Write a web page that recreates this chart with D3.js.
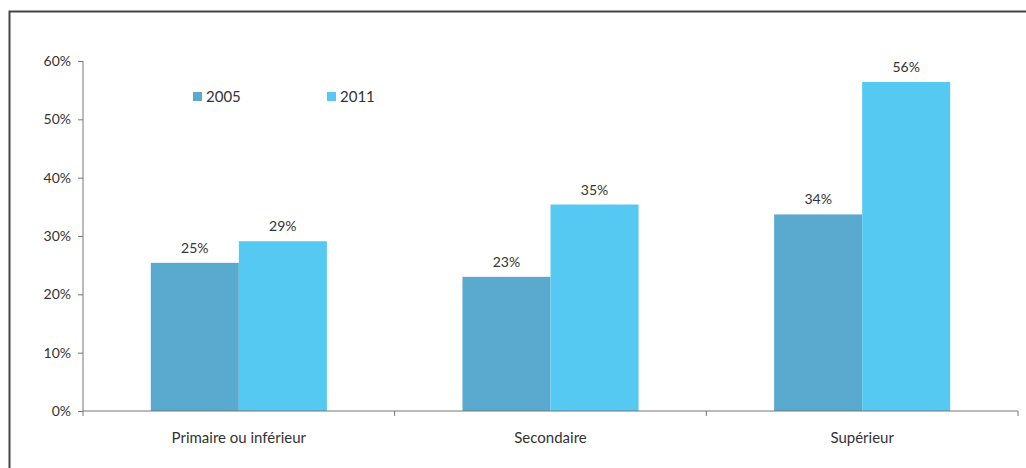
<!DOCTYPE html>
<html>
<head>
<meta charset="utf-8">
<script src="https://cdn.jsdelivr.net/npm/d3@7"></script>
<style>
  body { margin: 0; background: #fff; }
  svg text { font-family: "Lato", "Open Sans", sans-serif; fill: #333; }
</style>
</head>
<body>
<svg width="1026" height="468"></svg>
<script>
const categories = ['Primaire ou inférieur', 'Secondaire', 'Supérieur'];
const years = ['2005', '2011'];
const values2005 = [25.4, 23.0, 33.7];
const values2011 = [29.1, 35.4, 56.4];
const yTicks = [0, 10, 20, 30, 40, 50, 60];
const colours = ['#5aa9cf', '#55c9f1'];

const svg = d3.select('svg');
const margin = {top: 61, left: 83, right: 1018, bottom: 411};

// frame around the chart
svg.append('path')
  .attr('d', 'M9.5,470 L9.5,11.5 L1030,11.5')
  .attr('fill', 'none')
  .attr('stroke', '#444')
  .attr('stroke-width', 2);

const x0 = d3.scaleBand().domain(categories).range([margin.left, margin.right]).paddingInner(0).paddingOuter(0);
const x1 = d3.scaleBand().domain(years).range([0, x0.bandwidth()]).paddingInner(0).paddingOuter(0.77);
const y = d3.scaleLinear().domain([0, 60]).range([margin.bottom, margin.top]);

const rows = categories.map((c, i) => ({cat: c, vals: [values2005[i], values2011[i]]}));

// y axis
const yAxis = svg.append('g')
  .attr('transform', 'translate(' + margin.left + ',0)')
  .call(d3.axisLeft(y).tickValues(yTicks).tickSize(5).tickPadding(7).tickFormat(d => d + '%'));
yAxis.select('.domain').attr('stroke', '#777').attr('d', 'M0,' + margin.top + 'V' + margin.bottom);
yAxis.selectAll('.tick line').attr('stroke', '#777');
yAxis.selectAll('text').attr('font-size', 14).style('fill', '#333');

// bars
const groups = svg.selectAll('.grp')
  .data(rows)
  .enter().append('g')
  .attr('class', 'grp')
  .attr('transform', d => 'translate(' + x0(d.cat) + ',0)');

groups.selectAll('rect')
  .data(d => d.vals.map((v, j) => ({year: years[j], v: v, j: j})))
  .enter().append('rect')
  .attr('x', d => x1(d.year))
  .attr('width', x1.bandwidth())
  .attr('y', d => y(d.v))
  .attr('height', d => y(0) - y(d.v))
  .attr('fill', d => colours[d.j]);

groups.selectAll('.lbl')
  .data(d => d.vals.map((v, j) => ({year: years[j], v: v})))
  .enter().append('text')
  .attr('class', 'lbl')
  .attr('x', d => x1(d.year) + x1.bandwidth() / 2)
  .attr('y', d => y(d.v) - 10)
  .attr('text-anchor', 'middle')
  .attr('font-size', 14)
  .text(d => d3.format('.0f')(d.v) + '%');

// x axis
const xAxis = svg.append('g')
  .attr('transform', 'translate(0,' + margin.bottom + ')');
xAxis.append('line')
  .attr('x1', margin.left).attr('x2', margin.right)
  .attr('stroke', '#777');
xAxis.selectAll('.xt')
  .data(categories.concat(['end']))
  .enter().append('line')
  .attr('x1', (d, i) => i < categories.length ? x0(d) : margin.right)
  .attr('x2', (d, i) => i < categories.length ? x0(d) : margin.right)
  .attr('y1', 0).attr('y2', 5)
  .attr('stroke', '#777');
xAxis.selectAll('.xl')
  .data(categories)
  .enter().append('text')
  .attr('x', d => x0(d) + x0.bandwidth() / 2)
  .attr('y', 32)
  .attr('text-anchor', 'middle')
  .attr('font-size', 15)
  .text(d => d);

// legend
const legendX = [193, 327];
const legend = svg.selectAll('.leg')
  .data(years)
  .enter().append('g')
  .attr('transform', (d, i) => 'translate(' + legendX[i] + ',92)');
legend.append('rect')
  .attr('width', 9).attr('height', 9)
  .attr('fill', (d, i) => colours[i]);
legend.append('text')
  .attr('x', 13).attr('y', 10)
  .attr('font-size', 15)
  .text(d => d);
</script>
</body>
</html>
